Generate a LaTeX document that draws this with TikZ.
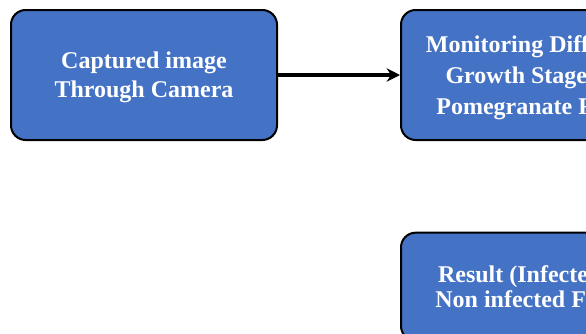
\documentclass[tikz,border=0pt]{standalone}
\usepackage{fontspec}
\setmainfont{Liberation Serif}
\usetikzlibrary{arrows.meta,positioning}
\definecolor{boxblue}{RGB}{68,114,196}

\begin{document}
\begin{tikzpicture}[x=0.75pt,y=0.75pt,yscale=-1,xscale=1,
    stage/.style={draw=black, line width=1.5pt, fill=boxblue, rounded corners=11pt,
      minimum width=199.5pt, minimum height=97.5pt, text=white, align=center,
      text depth=0pt, font=\fontsize{18}{22}\selectfont\bfseries},
    node distance=68pt and 91.5pt]
    %set diagram to the cropped frame 586 x 333
    \useasboundingbox (0,0) rectangle (586,333);
    \clip (0,0) rectangle (586,333);

    % Stage boxes
    \node [stage] (capture) at (144,75) {Captured image\\Through Camera};
    \node [stage, right=of capture, font=\fontsize{18}{23}\selectfont\bfseries] (monitor) {Monitoring Different\\Growth Stages of\\Pomegranate Fruit};
    \node [stage, below=of monitor, minimum height=81pt, font=\fontsize{18}{18.5}\selectfont\bfseries] (result) {Result (Infected or\\Non infected Fruit)};

    % Connector
    \draw [-{Stealth[length=10pt,width=10pt]}, line width=2.8pt] (capture) -- (monitor);

\end{tikzpicture}
\end{document}
